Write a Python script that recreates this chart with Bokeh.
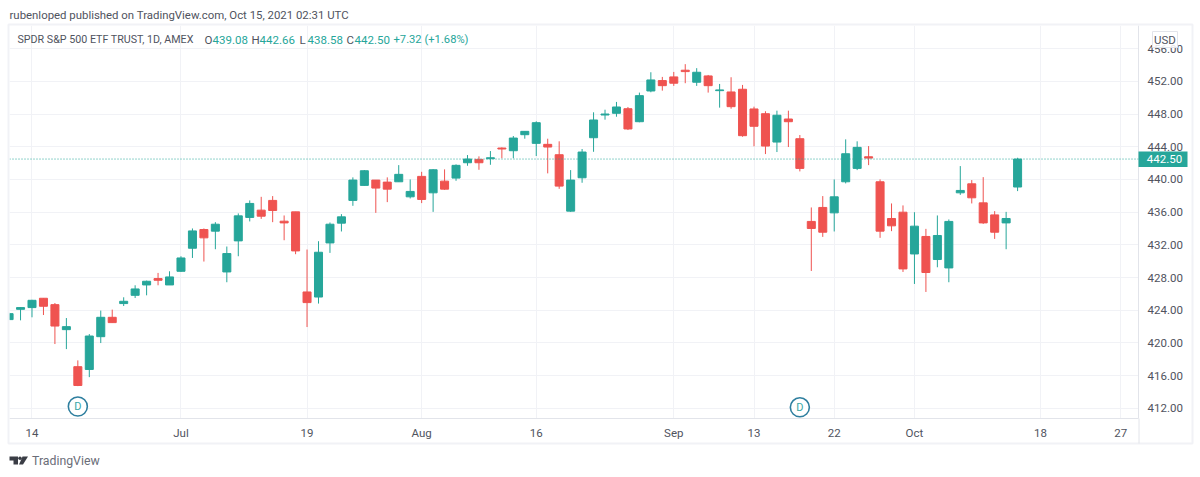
from bokeh.plotting import figure
from bokeh.embed import file_html
from bokeh.resources import INLINE
from bokeh.models import ColumnDataSource, Range1d, FixedTicker, Span
from bokeh.core.properties import value

INDEX = list(range(-2, 87))
OPEN = [422.86,424.12,424.33,425.47,424.69,421.63,417.10,416.76,420.77,423.14,424.82,425.83,427.10,427.88,427.10,428.77,431.59,433.88,433.68,428.69,432.49,435.36,436.25,437.44,434.90,436.04,426.24,425.62,432.24,434.66,437.44,439.28,439.93,439.68,439.72,437.88,440.38,438.37,439.80,440.17,442.05,442.46,442.54,443.85,443.52,445.48,444.42,444.30,443.03,436.13,440.21,445.11,447.89,448.10,448.66,447.07,450.83,452.10,452.55,453.37,451.90,452.67,450.87,450.71,451.04,448.63,448.05,444.58,447.40,444.99,434.87,436.58,435.92,439.72,441.36,442.78,439.72,435.23,436.00,430.89,433.03,430.21,429.18,438.37,439.47,437.14,435.67,434.69,439.08]
HIGH = [423.70,424.40,425.28,425.50,424.89,423.05,417.87,421.09,423.96,424.08,425.59,427.06,427.63,428.57,428.77,430.61,434.01,434.01,434.78,431.80,435.85,437.44,437.88,437.97,435.60,436.04,431.43,432.45,434.74,435.76,440.26,441.15,439.93,440.26,441.76,440.01,440.94,441.27,441.24,441.85,442.99,442.83,443.48,443.93,445.32,445.89,447.12,444.99,444.67,441.15,443.73,448.22,448.54,449.49,448.87,450.63,453.12,452.55,453.16,454.11,453.62,452.79,451.69,452.51,451.57,448.91,448.35,448.42,448.42,445.44,436.58,437.97,440.01,444.91,444.67,444.09,440.01,437.07,436.83,436.00,433.96,435.60,435.11,441.64,439.93,440.29,436.13,436.04,442.66]
LOW = [422.80,422.77,423.14,423.42,419.87,419.25,414.72,415.82,419.99,422.49,424.52,425.50,425.83,427.06,427.10,428.69,430.40,429.96,431.47,427.43,430.61,434.87,435.18,434.78,432.57,430.86,421.95,424.82,431.02,433.64,436.78,439.24,435.92,437.23,439.72,437.68,437.11,436.04,438.74,439.84,441.68,441.19,441.80,442.59,442.59,444.99,442.87,440.75,438.86,436.04,439.60,443.39,447.32,447.68,446.05,447.00,450.67,450.87,451.45,451.78,451.45,450.63,448.79,448.66,445.23,444.06,443.11,443.36,443.97,440.99,428.81,432.98,433.64,439.52,441.15,441.76,432.86,433.68,428.69,427.22,426.24,429.26,427.43,438.12,437.07,434.57,432.73,431.47,438.58]
CLOSE = [423.59,424.33,425.22,424.49,422.07,422.00,414.80,420.85,423.14,422.49,425.10,426.61,427.55,427.67,428.08,430.40,433.71,432.86,434.53,430.94,435.55,437.07,435.51,436.21,434.69,431.26,424.94,431.10,434.53,435.43,439.93,441.07,438.95,438.82,440.63,438.54,437.56,441.19,438.82,441.73,442.50,442.05,442.66,443.73,445.07,445.89,446.95,443.97,439.19,439.93,443.36,447.28,448.01,448.87,446.18,450.26,452.18,451.48,451.78,453.20,453.12,451.48,450.96,448.91,445.36,446.51,444.09,447.86,447.07,441.36,434.01,433.55,437.88,443.15,443.93,442.62,433.68,434.33,429.06,434.29,428.62,433.15,434.87,438.66,437.76,434.69,433.55,435.23,442.50]

DIVIDENDS = [4, 67]
DIVIDEND_Y = [412.23, 412.13]
LAST_PRICE = 442.50
X_TICKS = [0, 13, 24, 34, 44, 56, 63, 70, 77, 88, 95]
X_LABELS = ["14", "Jul", "19", "Aug", "16", "Sep", "13", "22", "Oct", "18", "27"]
Y_TICKS = [412, 416, 420, 424, 428, 432, 436, 440, 444, 448, 452, 456]

UP = "#26a69a"
DOWN = "#ef5350"
GRID = "#f1f2f6"
AXIS = "#e2e4ea"
TEXT = "#50535e"
FONT = "Roboto"

colors = [UP if c >= o else DOWN for o, c in zip(OPEN, CLOSE)]
src = ColumnDataSource(dict(x=INDEX, open=OPEN, high=HIGH, low=LOW, close=CLOSE, color=colors))

p = figure(width=1200, height=477, output_backend="svg", toolbar_location=None,
           x_range=Range1d(-1.963, 96.55), y_range=Range1d(410.76, 458.84),
           y_axis_location="right", min_border_left=9, min_border_right=62,
           min_border_top=25, min_border_bottom=59, tools="")
p.outline_line_color = None
p.background_fill_color = "white"

p.xaxis.ticker = FixedTicker(ticks=X_TICKS)
p.xaxis.major_label_overrides = dict(zip(X_TICKS, X_LABELS))
p.yaxis.ticker = FixedTicker(ticks=Y_TICKS)
p.yaxis.major_label_overrides = {t: f"{t:.2f}" for t in Y_TICKS}
for ax in (p.xaxis[0], p.yaxis[0]):
    ax.major_tick_line_color = None
    ax.minor_tick_line_color = None
    ax.major_tick_out = 0
    ax.major_tick_in = 0
    ax.minor_tick_out = 0
    ax.axis_line_color = AXIS
    ax.major_label_text_color = TEXT
    ax.major_label_text_font = FONT
    ax.major_label_text_font_size = "11.5px"
p.xaxis.major_label_standoff = 7
p.yaxis.major_label_standoff = 9
p.xgrid.ticker = FixedTicker(ticks=X_TICKS)
p.ygrid.ticker = FixedTicker(ticks=Y_TICKS)
p.xgrid.grid_line_color = GRID
p.ygrid.grid_line_color = GRID

p.segment("x", "low", "x", "high", source=src, color="color", line_width=1)
p.vbar("x", width=0.7, bottom="open", top="close", source=src,
       fill_color="color", line_color="color", line_width=1)
p.add_layout(Span(location=LAST_PRICE, dimension="width", line_color=UP, line_dash="1 2",
                  line_width=1))
p.scatter(DIVIDENDS, DIVIDEND_Y, size=19, marker="circle", fill_color="white",
          line_color="#2f7f9f", line_width=1.6)
p.text(DIVIDENDS, DIVIDEND_Y, text=["D", "D"], text_align="center", text_baseline="middle",
       text_color="#3aa6a6", text_font_size="11px", text_font=value(FONT))

# transparent page-sized layer for the frame, header, price tag and logo
q = figure(width=1200, height=477, output_backend="svg", toolbar_location=None,
           x_range=Range1d(0, 1200), y_range=Range1d(477, 0),
           x_axis_location=None, y_axis_location=None, min_border=0, tools="",
           styles={"position": "absolute", "top": "0px", "left": "0px"})
q.outline_line_color = None
q.background_fill_alpha = 0
q.border_fill_alpha = 0
q.grid.visible = False


def label(x, y, text, color=TEXT, size="11.5px", align="left"):
    q.text([x], [y], text=[text], text_color=color, text_font=value(FONT), text_font_size=size,
           text_align=align, text_baseline="middle")


# outer frame and price scale divider
q.quad(left=[8], right=[1192], top=[24], bottom=[443], fill_alpha=0, line_color=GRID, line_width=2)
q.segment([1138.5], [418], [1138.5], [443], line_color=AXIS, line_width=1)

label(9, 14, "rubenloped published on TradingView.com, Oct 15, 2021 02:31 UTC", size="11.4px")
label(17, 39, "SPDR S&P 500 ETF TRUST, 1D, AMEX", size="10.7px")
for x, letter, val in [(204, "O", "439.08"), (251, "H", "442.66"), (299, "L", "438.58"), (346, "C", "442.50")]:
    label(x, 39, letter)
    label(x + 8, 39, val, color=UP)
label(393, 39, "+7.32 (+1.68%)", color=UP, size="11.2px")

# USD button and last-price tag
q.quad(left=[1152], right=[1177], top=[31], bottom=[47], fill_color="white", fill_alpha=0.85,
       line_color=AXIS, line_width=1)
label(1164.5, 39, "USD", align="center")
q.quad(left=[1138], right=[1187], top=[151], bottom=[166.5], fill_color=UP, line_color=UP, line_width=0)
label(1164, 158.5, "442.50", color="white", align="center")

# TradingView logo
q.patches([[9, 17.5, 17.5, 13, 13, 9], [22, 27.5, 22.5, 18.5]],
          [[456, 456, 464, 464, 460, 460], [456, 456, 464, 464]],
          fill_color="#3a3d45", line_color="#3a3d45", line_width=0)
q.scatter([19.5], [457.7], size=3.5, marker="circle", fill_color="#3a3d45", line_width=0)
label(31.5, 460, "TradingView", color="#6a6d78", size="12.3px")

open("out.html", "w").write(file_html([p, q], INLINE))
